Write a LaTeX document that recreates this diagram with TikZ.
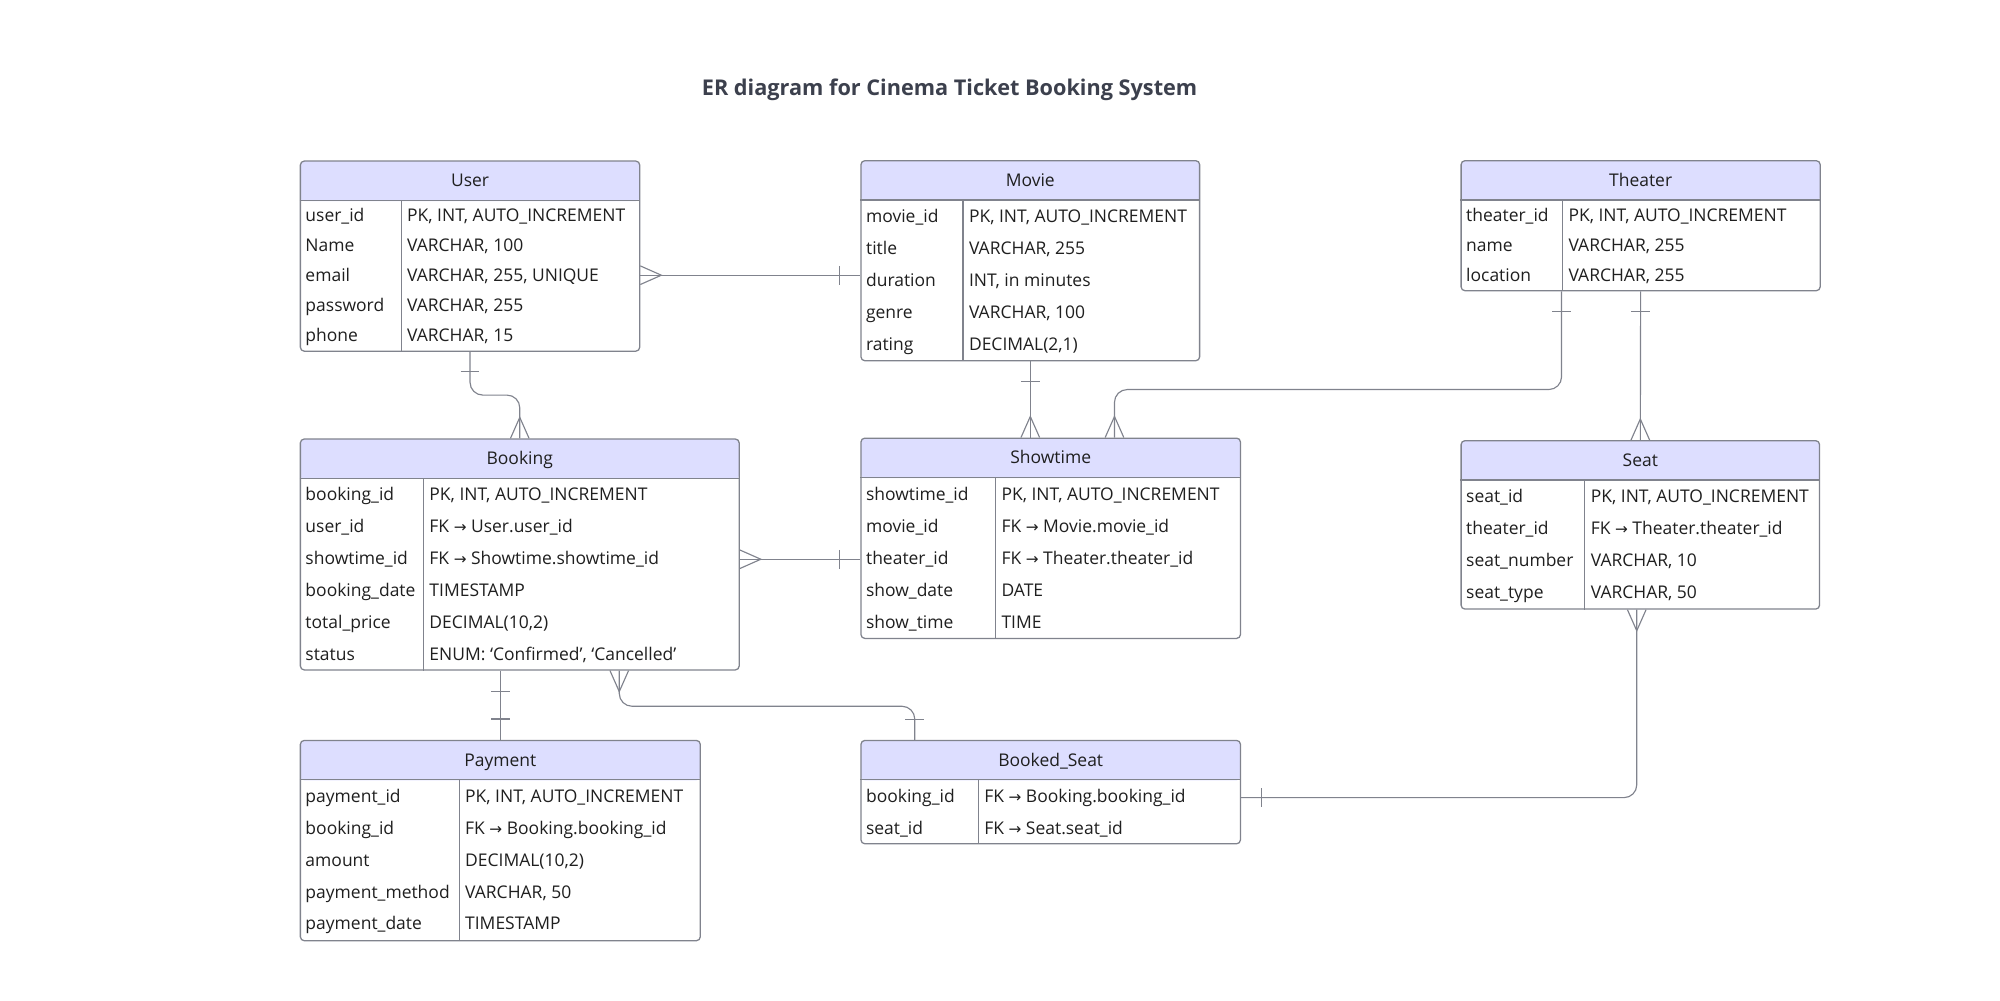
\documentclass[tikz,border=0pt]{standalone}
\usepackage{fontspec}
\setmainfont{Open Sans}
\newfontfamily\arrowfont{DejaVu Sans}
\usetikzlibrary{calc}
\definecolor{headfill}{RGB}{221,222,255}
\definecolor{edgegray}{RGB}{128,131,141}
\definecolor{titlegray}{RGB}{60,64,77}
\newcommand{\fkarrow}{{\arrowfont\fontsize{12}{14}\selectfont →}}

\begin{document}
\begin{tikzpicture}[x=1pt, y=-1pt,
        every node/.style={inner sep=0pt, font=\fontsize{13.7}{16}\selectfont, text=black!88},
        entitybox/.style={draw=edgegray, line width=1pt, rounded corners=3pt, fill=white, anchor=north west,
            path picture={\fill[headfill] (path picture bounding box.north west) rectangle ([yshift=-31.3pt]path picture bounding box.north east);}},
        head/.style={anchor=base, yshift=-4.9pt},
        attr/.style={anchor=base west, yshift=-4.9pt},
        rule/.style={draw=edgegray, line width=1pt},
        conn/.style={draw=edgegray, line width=0.9pt},
        crow/.pic={\draw[conn] (0,-7.3) -- (16.5,0) -- (0,7.3);},
        bar/.pic={\draw[conn] (0,-7.3) -- (0,7.3);}]
    \useasboundingbox (0,0) rectangle (1568,784);

    % Title
    \node[font=\bfseries\fontsize{17}{20}\selectfont, text=titlegray, anchor=base, yshift=-6pt] (title) at (744.5,69) {ER diagram for Cinema Ticket Booking System};

    % Entities
    \node[entitybox, minimum width=266, minimum height=149] (user) at (235,125.8) {};
    \node[entitybox, minimum width=265.5, minimum height=156.8] (movie) at (674.5,125.5) {};
    \node[entitybox, minimum width=281.5, minimum height=101.9] (theater) at (1145,125.5) {};
    \node[entitybox, minimum width=344, minimum height=181] (booking) at (235,343.7) {};
    \node[entitybox, minimum width=297.5, minimum height=157] (showtime) at (674.5,343) {};
    \node[entitybox, minimum width=281, minimum height=132] (seat) at (1145,345) {};
    \node[entitybox, minimum width=313.5, minimum height=157] (payment) at (235,580) {};
    \node[entitybox, minimum width=297.5, minimum height=81] (bookedseat) at (674.5,580) {};

    % Header rules and column dividers
    \draw[rule] ([yshift=-31.3pt]user.north west) -- ([yshift=-31.3pt]user.north east) ([xshift=79.5pt,yshift=-31.3pt]user.north west) -- ([xshift=79.5pt]user.south west);
    \draw[rule] ([yshift=-31.3pt]movie.north west) -- ([yshift=-31.3pt]movie.north east) ([xshift=80.5pt,yshift=-31.3pt]movie.north west) -- ([xshift=80.5pt]movie.south west);
    \draw[rule] ([yshift=-31.3pt]theater.north west) -- ([yshift=-31.3pt]theater.north east) ([xshift=80pt,yshift=-31.3pt]theater.north west) -- ([xshift=80pt]theater.south west);
    \draw[rule] ([yshift=-31.3pt]booking.north west) -- ([yshift=-31.3pt]booking.north east) ([xshift=97pt,yshift=-31.3pt]booking.north west) -- ([xshift=97pt]booking.south west);
    \draw[rule] ([yshift=-31.3pt]showtime.north west) -- ([yshift=-31.3pt]showtime.north east) ([xshift=106pt,yshift=-31.3pt]showtime.north west) -- ([xshift=106pt]showtime.south west);
    \draw[rule] ([yshift=-31.3pt]seat.north west) -- ([yshift=-31.3pt]seat.north east) ([xshift=97.5pt,yshift=-31.3pt]seat.north west) -- ([xshift=97.5pt]seat.south west);
    \draw[rule] ([yshift=-31.3pt]payment.north west) -- ([yshift=-31.3pt]payment.north east) ([xshift=125pt,yshift=-31.3pt]payment.north west) -- ([xshift=125pt]payment.south west);
    \draw[rule] ([yshift=-31.3pt]bookedseat.north west) -- ([yshift=-31.3pt]bookedseat.north east) ([xshift=92.5pt,yshift=-31.3pt]bookedseat.north west) -- ([xshift=92.5pt]bookedseat.south west);

    % Headers
    \node[head] (userT) at ([yshift=-15.7pt]user.north) {User};
    \node[head] (movieT) at ([yshift=-15.7pt]movie.north) {Movie};
    \node[head] (theaterT) at ([yshift=-15.7pt]theater.north) {Theater};
    \node[head] (bookingT) at ([yshift=-15.7pt]booking.north) {Booking};
    \node[head] (showtimeT) at ([yshift=-15.7pt]showtime.north) {Showtime};
    \node[head] (seatT) at ([yshift=-15.7pt]seat.north) {Seat};
    \node[head] (paymentT) at ([yshift=-15.7pt]payment.north) {Payment};
    \node[head] (bookedseatT) at ([yshift=-15.7pt]bookedseat.north) {Booked\_Seat};

    % User rows
    \node[attr] (u1) at (239.3,169) {user\_id};          \node[attr] (u1t) at (319,169) {PK, INT, AUTO\_INCREMENT};
    \node[attr] (u2) at (239.3,192.5) {Name};            \node[attr] (u2t) at (319,192.5) {VARCHAR, 100};
    \node[attr] (u3) at (239.3,216) {email};             \node[attr] (u3t) at (319,216) {VARCHAR, 255, UNIQUE};
    \node[attr] (u4) at (239.3,239.5) {password};        \node[attr] (u4t) at (319,239.5) {VARCHAR, 255};
    \node[attr] (u5) at (239.3,263) {phone};             \node[attr] (u5t) at (319,263) {VARCHAR, 15};

    % Movie rows
    \node[attr] (m1) at (678.8,169.4) {movie\_id};       \node[attr] (m1t) at (759.5,169.4) {PK, INT, AUTO\_INCREMENT};
    \node[attr] (m2) at (678.8,194.5) {title};           \node[attr] (m2t) at (759.5,194.5) {VARCHAR, 255};
    \node[attr] (m3) at (678.8,219.6) {duration};        \node[attr] (m3t) at (759.5,219.6) {INT, in minutes};
    \node[attr] (m4) at (678.8,244.7) {genre};           \node[attr] (m4t) at (759.5,244.7) {VARCHAR, 100};
    \node[attr] (m5) at (678.8,269.8) {rating};          \node[attr] (m5t) at (759.5,269.8) {DECIMAL(2,1)};

    % Theater rows
    \node[attr] (t1) at (1149.3,168.6) {theater\_id};    \node[attr] (t1t) at (1229.5,168.6) {PK, INT, AUTO\_INCREMENT};
    \node[attr] (t2) at (1149.3,192.1) {name};           \node[attr] (t2t) at (1229.5,192.1) {VARCHAR, 255};
    \node[attr] (t3) at (1149.3,215.6) {location};       \node[attr] (t3t) at (1229.5,215.6) {VARCHAR, 255};

    % Booking rows
    \node[attr] (b1) at (239.3,387.5) {booking\_id};     \node[attr] (b1t) at (336.5,387.5) {PK, INT, AUTO\_INCREMENT};
    \node[attr] (b2) at (239.3,412.6) {user\_id};        \node[attr] (b2t) at (336.5,412.6) {FK \fkarrow{} User.user\_id};
    \node[attr] (b3) at (239.3,437.7) {showtime\_id};    \node[attr] (b3t) at (336.5,437.7) {FK \fkarrow{} Showtime.showtime\_id};
    \node[attr] (b4) at (239.3,462.8) {booking\_date};   \node[attr] (b4t) at (336.5,462.8) {TIMESTAMP};
    \node[attr] (b5) at (239.3,487.9) {total\_price};    \node[attr] (b5t) at (336.5,487.9) {DECIMAL(10,2)};
    \node[attr] (b6) at (239.3,513) {status};            \node[attr] (b6t) at (336.5,513) {ENUM: ‘Confirmed’, ‘Cancelled’};

    % Showtime rows
    \node[attr] (s1) at (678.8,387.5) {showtime\_id};    \node[attr] (s1t) at (785,387.5) {PK, INT, AUTO\_INCREMENT};
    \node[attr] (s2) at (678.8,412.6) {movie\_id};       \node[attr] (s2t) at (785,412.6) {FK \fkarrow{} Movie.movie\_id};
    \node[attr] (s3) at (678.8,437.7) {theater\_id};     \node[attr] (s3t) at (785,437.7) {FK \fkarrow{} Theater.theater\_id};
    \node[attr] (s4) at (678.8,462.8) {show\_date};      \node[attr] (s4t) at (785,462.8) {DATE};
    \node[attr] (s5) at (678.8,487.9) {show\_time};      \node[attr] (s5t) at (785,487.9) {TIME};

    % Seat rows
    \node[attr] (e1) at (1149.3,389.3) {seat\_id};       \node[attr] (e1t) at (1247,389.3) {PK, INT, AUTO\_INCREMENT};
    \node[attr] (e2) at (1149.3,414.4) {theater\_id};    \node[attr] (e2t) at (1247,414.4) {FK \fkarrow{} Theater.theater\_id};
    \node[attr] (e3) at (1149.3,439.5) {seat\_number};   \node[attr] (e3t) at (1247,439.5) {VARCHAR, 10};
    \node[attr] (e4) at (1149.3,464.6) {seat\_type};     \node[attr] (e4t) at (1247,464.6) {VARCHAR, 50};

    % Payment rows
    \node[attr] (p1) at (239.3,624.5) {payment\_id};     \node[attr] (p1t) at (364.5,624.5) {PK, INT, AUTO\_INCREMENT};
    \node[attr] (p2) at (239.3,649.4) {booking\_id};     \node[attr] (p2t) at (364.5,649.4) {FK \fkarrow{} Booking.booking\_id};
    \node[attr] (p3) at (239.3,674.3) {amount};          \node[attr] (p3t) at (364.5,674.3) {DECIMAL(10,2)};
    \node[attr] (p4) at (239.3,699.2) {payment\_method}; \node[attr] (p4t) at (364.5,699.2) {VARCHAR, 50};
    \node[attr] (p5) at (239.3,724.1) {payment\_date};   \node[attr] (p5t) at (364.5,724.1) {TIMESTAMP};

    % Booked_Seat rows
    \node[attr] (k1) at (678.8,624) {booking\_id};       \node[attr] (k1t) at (771.5,624) {FK \fkarrow{} Booking.booking\_id};
    \node[attr] (k2) at (678.8,649) {seat\_id};          \node[attr] (k2t) at (771.5,649) {FK \fkarrow{} Seat.seat\_id};

    % Relationships
    % User -- Movie
    \draw[conn] (user.east |- u3) -- (movie.west |- u3);
    \pic at (user.east |- u3) {crow};
    \pic at ($(movie.west |- u3)+(-16.5,0)$) {bar};
    % User -- Booking
    \draw[conn, rounded corners=10pt] (user.south) |- ($(user.south)!0.5!(booking.north)$) -| (booking.north);
    \pic[rotate=90] at ($(user.south)+(0,15.6)$) {bar};
    \pic[rotate=90] at (booking.north) {crow};
    % Movie -- Showtime
    \draw[conn] (movie.south) -- (movie.south |- showtime.north);
    \pic[rotate=90] at ($(movie.south)+(0,15.7)$) {bar};
    \pic[rotate=90] at (movie.south |- showtime.north) {crow};
    % Theater -- Showtime
    \draw[conn, rounded corners=10pt] ($(theater.south)+(-62,0)$) -- ++(0,77) -| ($(showtime.north)+(50,0)$);
    \pic[rotate=90] at ($(theater.south)+(-62,15.7)$) {bar};
    \pic[rotate=90] at ($(showtime.north)+(50,0)$) {crow};
    % Theater -- Seat
    \draw[conn] (theater.south) -- (seat.north);
    \pic[rotate=90] at ($(theater.south)+(0,15.7)$) {bar};
    \pic[rotate=90] at (seat.north) {crow};
    % Booking -- Showtime
    \draw[conn] (booking.east |- b3) -- (showtime.west |- b3);
    \pic at (booking.east |- b3) {crow};
    \pic at ($(showtime.west |- b3)+(-16.5,0)$) {bar};
    % Booking -- Payment
    \draw[conn] (booking.south -| payment.north) -- (payment.north);
    \pic[rotate=90] at ($(booking.south -| payment.north)+(0,16.3)$) {bar};
    \pic[rotate=90] at ($(payment.north)+(0,-16.3)$) {bar};
    % Booking -- Booked_Seat
    \draw[conn, rounded corners=10pt] ($(booking.south)+(78,0)$) -- ++(0,28) -| ($(bookedseat.north)+(-106.6,0)$);
    \pic[rotate=-90] at ($(booking.south)+(78,0)$) {crow};
    \pic[rotate=90] at ($(bookedseat.north)+(-106.6,-16.2)$) {bar};
    % Seat -- Booked_Seat
    \draw[conn, rounded corners=10pt] (bookedseat.east |- k1) -| ($(seat.south)+(-2.8,0)$);
    \pic at ($(bookedseat.east |- k1)+(16.2,0)$) {bar};
    \pic[rotate=-90] at ($(seat.south)+(-2.8,0)$) {crow};
\end{tikzpicture}
\end{document}
